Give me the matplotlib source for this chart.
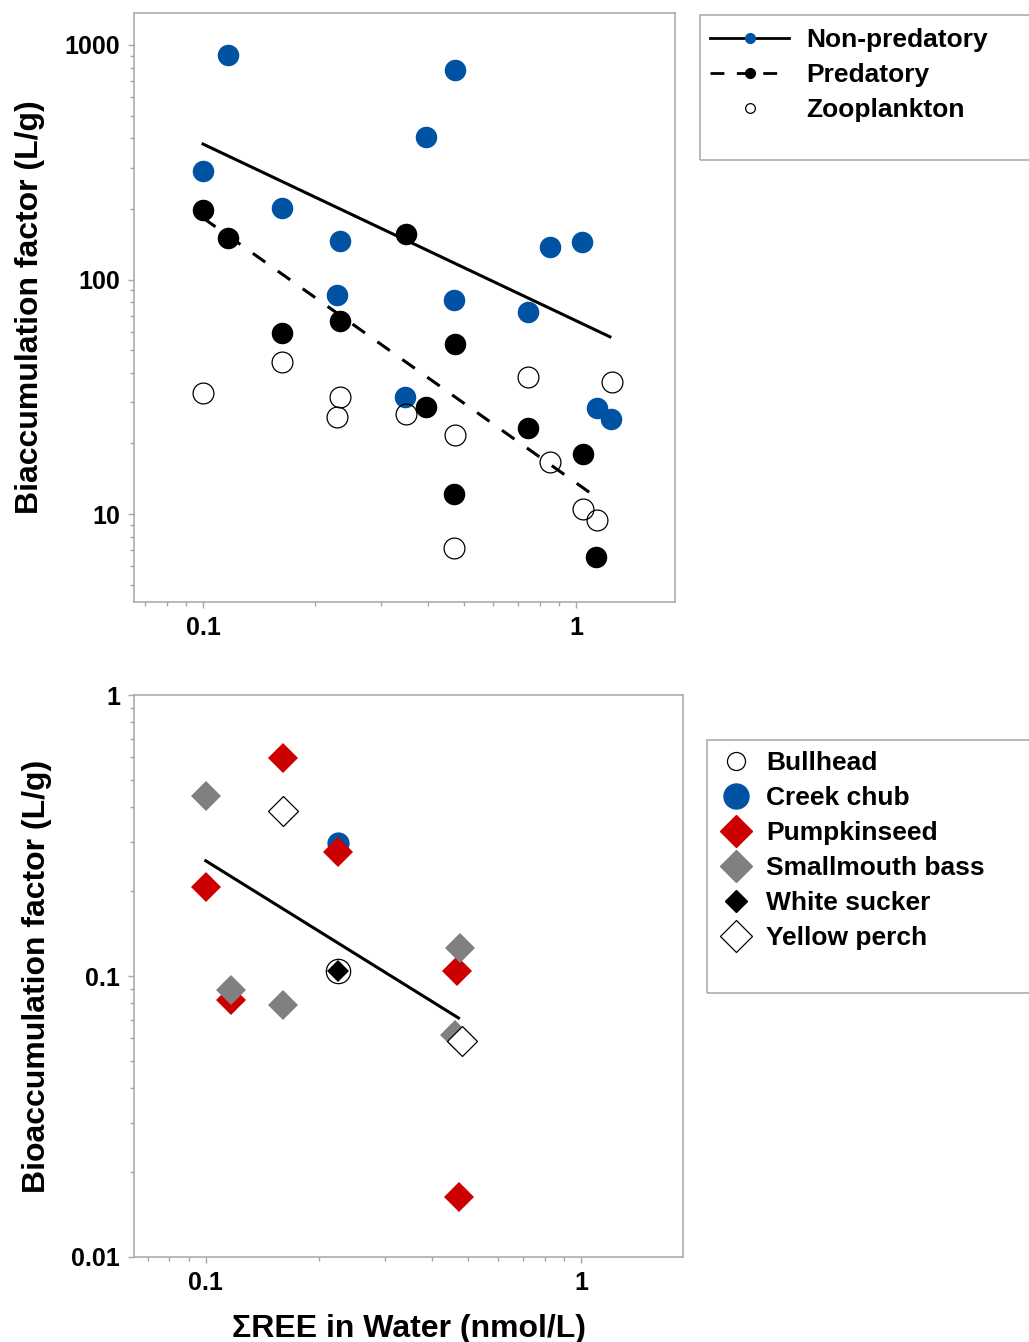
import matplotlib
matplotlib.use("Agg")
from matplotlib import pyplot as plt
from matplotlib.lines import Line2D
from matplotlib.patches import Rectangle
import numpy as np

plt.rcParams['font.family'] = ['Liberation Sans', 'DejaVu Sans']
plt.rcParams['font.weight'] = 'bold'

# ---- top panel: BAF vs total REE in water ----
nonpred_x = [0.117, 0.100, 0.163, 0.233, 0.229, 0.396, 0.474, 0.472, 0.348,
             0.743, 0.851, 1.04, 1.14, 1.24]
nonpred_y = [906, 290, 202, 146, 86, 406, 782, 82, 31.6, 72.8, 138, 145, 28.4, 25.5]

pred_x = [0.100, 0.117, 0.163, 0.233, 0.350, 0.396, 0.474, 0.472, 0.743, 1.044, 1.13]
pred_y = [198, 151, 59.3, 66.7, 157, 28.7, 53.2, 12.2, 23.3, 18.1, 6.58]

zoo_x = [0.100, 0.163, 0.233, 0.229, 0.350, 0.474, 0.472, 0.743, 0.851, 1.044, 1.14, 1.25]
zoo_y = [32.9, 44.6, 31.6, 26.0, 26.8, 21.8, 7.19, 38.5, 16.6, 10.5, 9.46, 36.6]

# fitted power-law lines (end points)
nonpred_fit_x = [0.100, 1.233]
nonpred_fit_y = [378, 57.0]
pred_fit_x = [0.100, 1.117]
pred_fit_y = [183, 12.0]

# ---- bottom panel: BAF by species ----
bullhead_x = [0.2244]
bullhead_y = [0.104]
creekchub_x = [0.2244]
creekchub_y = [0.297]
pumpkin_x = [0.100, 0.161, 0.2244, 0.117, 0.467, 0.473]
pumpkin_y = [0.207, 0.597, 0.276, 0.0822, 0.104, 0.0164]
bass_x = [0.100, 0.117, 0.161, 0.476, 0.462]
bass_y = [0.437, 0.0892, 0.0788, 0.126, 0.0617]
sucker_x = [0.2244]
sucker_y = [0.104]
perch_x = [0.161, 0.480]
perch_y = [0.387, 0.0587]

fish_fit_x = [0.100, 0.471]
fish_fit_y = [0.257, 0.0709]

BLUE = '#0052a3'
RED = '#cc0000'
GRAY = '#808080'
SPINE = '#a6a6a6'

fig = plt.figure(figsize=(10.29, 13.42), dpi=100)
W, H = 1029, 1342


def px_axes(l, t, r, b):
    return fig.add_axes([l / W, 1 - b / H, (r - l) / W, (b - t) / H])


def style_axes(ax):
    ax.set_xscale('log')
    ax.set_yscale('log')
    for s in ax.spines.values():
        s.set_color(SPINE)
        s.set_linewidth(1.1)
    ax.tick_params(which='both', direction='out', color=SPINE, width=1.0,
                   labelsize=18, pad=6)
    ax.tick_params(which='major', length=4)
    ax.tick_params(which='minor', length=3)
    ax.tick_params(top=False, right=False)
    for lab in ax.get_xticklabels() + ax.get_yticklabels():
        lab.set_fontweight('bold')


# top axes
ax1 = px_axes(134, 13, 675, 602)
style_axes(ax1)
ax1.plot(nonpred_x, nonpred_y, 'o', color=BLUE, ms=15.5, mew=0, zorder=3)
ax1.plot(pred_x, pred_y, 'o', color='black', ms=15.5, mew=0, zorder=3)
ax1.plot(zoo_x, zoo_y, 'o', mfc='none', mec='black', ms=15, mew=0.9, zorder=3)
ax1.plot(nonpred_fit_x, nonpred_fit_y, '-', color='black', lw=2.2, zorder=4)
ax1.plot(pred_fit_x, pred_fit_y, color='black', lw=2.2, dashes=(5, 5), zorder=4)
ax1.set_xlim(0.0653, 1.843)
ax1.set_ylim(4.22, 1368)
ax1.set_xticks([0.1, 1])
ax1.set_xticklabels(['0.1', '1'])
ax1.set_yticks([10, 100, 1000])
ax1.set_yticklabels(['10', '100', '1000'])
ax1.set_ylabel('Biaccumulation factor (L/g)', fontsize=23, fontweight='bold', labelpad=14)

# bottom axes
ax2 = px_axes(134, 695, 683, 1257)
style_axes(ax2)
ax2.plot(creekchub_x, creekchub_y, 'o', color=BLUE, ms=16, mew=0, zorder=3)
ax2.plot(pumpkin_x, pumpkin_y, 'D', color=RED, ms=15.5, mew=0, zorder=3)
ax2.plot(bass_x, bass_y, 'D', color=GRAY, ms=15.5, mew=0, zorder=3)
ax2.plot(bullhead_x, bullhead_y, 'o', mfc='white', mec='black', ms=17.5, mew=0.9, zorder=3)
ax2.plot(sucker_x, sucker_y, 'D', color='black', ms=11.5, mew=0, zorder=3)
ax2.plot(perch_x, perch_y, 'D', mfc='white', mec='black', ms=15, mew=0.9, zorder=3)
ax2.plot(fish_fit_x, fish_fit_y, '-', color='black', lw=2.2, zorder=4)
ax2.set_xlim(0.0644, 1.866)
ax2.set_ylim(0.01, 1)
ax2.set_xticks([0.1, 1])
ax2.set_xticklabels(['0.1', '1'])
ax2.set_yticks([0.01, 0.1, 1])
ax2.set_yticklabels(['0.01', '0.1', '1'])
ax2.set_ylabel('Bioaccumulation factor (L/g)', fontsize=23, fontweight='bold', labelpad=14)
ax2.set_xlabel('\u03a3REE in Water (nmol/L)', fontsize=23, fontweight='bold', labelpad=14)

# legend frames run off the right edge of the figure
fig.patches.append(Rectangle((700 / W, 1 - 160 / H), 400 / W, 145 / H,
                             transform=fig.transFigure, fill=False,
                             edgecolor=SPINE, lw=1.1))
fig.patches.append(Rectangle((707 / W, 1 - 993 / H), 400 / W, 253 / H,
                             transform=fig.transFigure, fill=False,
                             edgecolor=SPINE, lw=1.1))

top_handles = [
    Line2D([], [], color='black', lw=2, marker='o', mfc=BLUE, mec=BLUE, ms=7),
    Line2D([], [], color='black', lw=2, dashes=(5, 4.5), marker='o', mfc='black', mec='black', ms=7),
    Line2D([], [], ls='none', marker='o', mfc='none', mec='black', ms=7, mew=0.9),
]
leg1 = fig.legend(top_handles, ['Non-predatory', 'Predatory', 'Zooplankton'],
                  loc='upper left', bbox_to_anchor=(710 / W, 1 - 28 / H),
                  frameon=False, borderpad=0, borderaxespad=0,
                  handlelength=3.0, handletextpad=0.65, labelspacing=0.42,
                  prop={'size': 19, 'weight': 'bold'})

bottom_handles = [
    Line2D([], [], ls='none', marker='o', mfc='white', mec='black', ms=13, mew=0.9),
    Line2D([], [], ls='none', marker='o', mfc=BLUE, mec=BLUE, ms=18),
    Line2D([], [], ls='none', marker='D', mfc=RED, mec=RED, ms=16),
    Line2D([], [], ls='none', marker='D', mfc=GRAY, mec=GRAY, ms=16),
    Line2D([], [], ls='none', marker='D', mfc='black', mec='black', ms=11),
    Line2D([], [], ls='none', marker='D', mfc='white', mec='black', ms=16, mew=0.9),
]
leg2 = fig.legend(bottom_handles, ['Bullhead', 'Creek chub', 'Pumpkinseed',
                                   'Smallmouth bass', 'White sucker', 'Yellow perch'],
                  loc='upper left', bbox_to_anchor=(720 / W, 1 - 751 / H),
                  frameon=False, borderpad=0, borderaxespad=0,
                  handlelength=1.2, handletextpad=0.55, labelspacing=0.42,
                  prop={'size': 19, 'weight': 'bold'})

fig.savefig('out.png', dpi=100)
